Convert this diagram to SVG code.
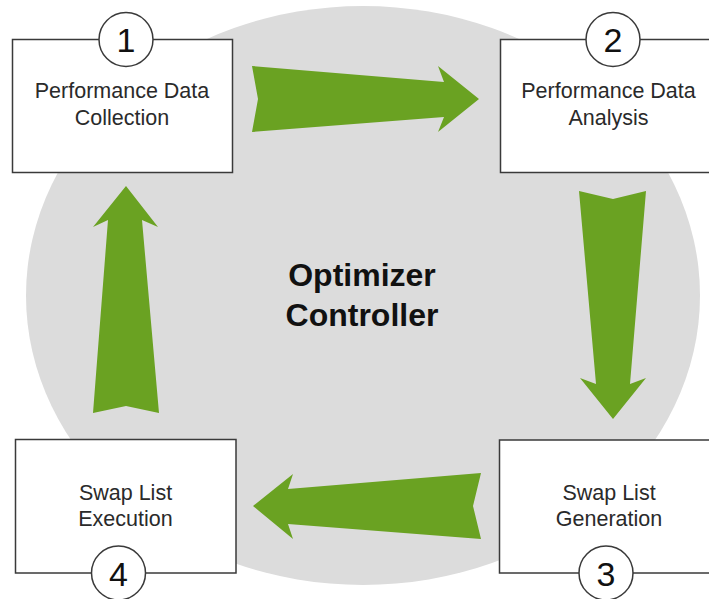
<svg xmlns="http://www.w3.org/2000/svg" width="709" height="599" viewBox="0 0 709 599">
<style>
.box{fill:#ffffff;stroke:#3a3a3a;stroke-width:1.5}
.num{fill:#ffffff;stroke:#3a3a3a;stroke-width:1.5}
.lbl{font-family:"Liberation Sans",Arial,sans-serif;font-size:21.5px;fill:#2a2a2a;text-anchor:middle}
.n{font-family:"Liberation Sans",Arial,sans-serif;font-size:34px;fill:#111;text-anchor:middle}
.title{font-family:"Liberation Sans",Arial,sans-serif;font-size:32px;font-weight:bold;fill:#111;text-anchor:middle}
.arrow{fill:#6aa222}
</style>
<rect width="709" height="599" fill="#ffffff"/>
<ellipse id="bg" cx="363" cy="295.5" rx="337" ry="289.5" fill="#dcdcdc"/>
<g id="title">
<text class="title" x="362" y="286">Optimizer</text>
<text class="title" x="362" y="326">Controller</text>
</g>
<g id="connectors">
<polygon class="arrow" points="252,66 444,82 438,66 479,99 438,132 444,117 252,132 258,99"/>
<polygon class="arrow" points="579,191 613,199 646,191 630,384 646,378 613,419 580,378 596,384"/>
<polygon class="arrow" points="253,506 293,474 288,489 481,473 473,506 481,539 288,524 293,539"/>
<polygon class="arrow" points="126,186 158,227 142,220 159,413 126,406 93,413 108,220 93,227"/>
</g>
<g id="node1">
<rect class="box" x="12.5" y="39.5" width="220" height="133"/>
<circle class="num" cx="126" cy="39.5" r="27"/>
<text class="n" x="126" y="52">1</text>
<text class="lbl" x="122" y="98">Performance Data</text>
<text class="lbl" x="122" y="125">Collection</text>
</g>
<g id="node2">
<rect class="box" x="500.5" y="39.5" width="220" height="133"/>
<circle class="num" cx="613" cy="39.5" r="27"/>
<text class="n" x="613" y="52">2</text>
<text class="lbl" x="608.5" y="98">Performance Data</text>
<text class="lbl" x="608.5" y="125">Analysis</text>
</g>
<g id="node3">
<rect class="box" x="499.5" y="440" width="220" height="133"/>
<circle class="num" cx="606" cy="573" r="27"/>
<text class="n" x="606" y="585.5">3</text>
<text class="lbl" x="609" y="500">Swap List</text>
<text class="lbl" x="609" y="526">Generation</text>
</g>
<g id="node4">
<rect class="box" x="15.5" y="439.5" width="220.5" height="133.5"/>
<circle class="num" cx="118.5" cy="573" r="27"/>
<text class="n" x="118.5" y="585.5">4</text>
<text class="lbl" x="125.5" y="500">Swap List</text>
<text class="lbl" x="125.5" y="526">Execution</text>
</g>
</svg>
